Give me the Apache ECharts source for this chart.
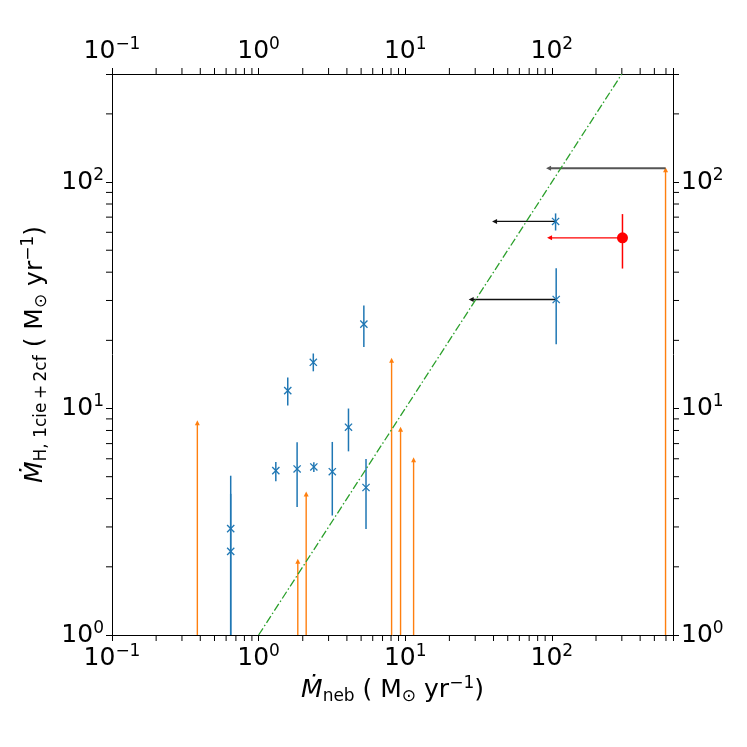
<!DOCTYPE html>
<html><head><meta charset="utf-8">
<script src="https://cdn.jsdelivr.net/npm/echarts@6/dist/echarts.min.js"></script>
<style>html,body{margin:0;padding:0;background:#fff}#c{width:747px;height:747px}</style>
</head><body><div id="c"></div>
<script>
// ---- axis ranges ----
const X_MIN = 0.1, X_MAX = 670, Y_MIN = 1, Y_MAX = 300;

// ---- blue measurements (x marker + vertical error bar) ----
const blueX  = [0.645, 0.645, 1.31, 1.58, 1.83, 2.36, 2.38, 3.18, 4.10, 5.22, 5.40, 106, 107];
const blueY  = [2.95, 2.34, 5.32, 12.0, 5.41, 16.0, 5.52, 5.26, 8.27, 23.6, 4.48, 67.0, 30.3];
const blueLo = [1.0, 1.0, 4.77, 10.3, 3.67, 14.6, 5.25, 3.37, 6.47, 18.7, 2.94, 61.1, 19.2];
const blueHi = [5.05, 4.2, 5.81, 13.7, 7.10, 17.5, 5.79, 7.12, 10.0, 28.5, 5.99, 72.7, 41.6];

// ---- orange lower limits (vertical arrows from bottom) ----
const orangeX = [0.382, 1.85, 2.11, 8.07, 9.29, 11.4, 596];
const orangeY = [8.79, 2.15, 4.26, 16.6, 8.22, 6.03, 115];

// ---- black upper limits on x (horizontal arrows pointing left) ----
const limFromX = [596, 106, 107];
const limToX   = [92.7, 39.7, 27.5];
const limY     = [115, 67.0, 30.3];

// ---- red point ----
const redX = [303], redY = [56.7], redLo = [41.5], redHi = [72.2], redToX = [94.2];

// ---- one-to-one line ----
const oneToOneX = [1, 300];

// ---- minor tick values ----
const xMinor = [0.2,0.3,0.4,0.5,0.6,0.7,0.8,0.9, 2,3,4,5,6,7,8,9, 20,30,40,50,60,70,80,90, 200,300,400,500,600];
const yMinor = [2,3,4,5,6,7,8,9, 20,30,40,50,60,70,80,90, 200];

const FONT = 'DejaVu Sans';
const BLUE = '#1f77b4', ORANGE = '#ff7f0e', GREEN = '#2ca02c', RED = '#ff0000';

function powLabel(v) {
  const l = Math.log10(v), e = Math.round(l);
  if (Math.abs(l - e) > 1e-6) return '';
  return '{b|10}{e|' + (e < 0 ? '\u2212' + (-e) : e) + '}';
}
const labelRich = {
  b: {fontSize: 25, fontFamily: FONT, color: '#000', lineHeight: 30},
  e: {fontSize: 17, fontFamily: FONT, color: '#000', lineHeight: 16, verticalAlign: 'top'}
};
const nameRich = {
  m: {fontSize: 25, fontFamily: FONT, fontStyle: 'italic', color: '#000', lineHeight: 30},
  n: {fontSize: 25, fontFamily: FONT, color: '#000', lineHeight: 30},
  s: {fontSize: 17, fontFamily: FONT, color: '#000', lineHeight: 18, verticalAlign: 'bottom'},
  e: {fontSize: 17, fontFamily: FONT, color: '#000', lineHeight: 16, verticalAlign: 'top'}
};

function axisCommon(min, max) {
  return {
    type: 'log', logBase: 10, min: min, max: max,
    axisLine: {show: true, onZero: false, lineStyle: {color: '#000', width: 1}},
    axisTick: {show: true, inside: false, length: 6, lineStyle: {color: '#000', width: 1}},
    axisLabel: {formatter: powLabel, rich: labelRich, margin: 8, showMinLabel: true, showMaxLabel: true},
    splitLine: {show: false}, minorTick: {show: false}, minorSplitLine: {show: false}
  };
}

const xBottom = Object.assign(axisCommon(X_MIN, X_MAX), {
  position: 'bottom',
  name: '{m|\u1E40}{s|neb}{n| ( M}{s|\u2299}{n| yr}{e|\u22121}{n|)}',
  nameLocation: 'middle', nameGap: 40, nameTextStyle: {rich: nameRich}
});
const xTop = Object.assign(axisCommon(X_MIN, X_MAX), {position: 'top'});
const yLeft = Object.assign(axisCommon(Y_MIN, Y_MAX), {
  position: 'left',
  name: '{m|\u1E40}{s|H, 1cie\u2009+\u20092cf}{n| ( M}{s|\u2299}{n| yr}{e|\u22121}{n|)}',
  nameLocation: 'middle', nameGap: 62, nameRotate: 90, nameTextStyle: {rich: nameRich}
});
const yRight = Object.assign(axisCommon(Y_MIN, Y_MAX), {position: 'right'});

function triUp(px, py, c) {
  return {type: 'polygon', shape: {points: [[px, py - 1], [px - 2.5, py + 4], [px + 2.5, py + 4]]}, style: {fill: c}};
}
function triLeft(px, py, c) {
  return {type: 'polygon', shape: {points: [[px - 1, py], [px + 4, py - 2.5], [px + 4, py + 2.5]]}, style: {fill: c}};
}

const blueData = blueX.map((x, i) => [x, blueY[i], blueLo[i], blueHi[i]]);
const orangeData = orangeX.map((x, i) => [x, orangeY[i]]);
const limData = limFromX.map((x, i) => [x, limY[i], limToX[i]]);
const redData = redX.map((x, i) => [x, redY[i], redLo[i], redHi[i], redToX[i]]);

const option = {
  animation: false,
  grid: {left: 112, right: 74, top: 74, bottom: 112, containLabel: false},
  xAxis: [xBottom, xTop],
  yAxis: [yLeft, yRight],
  series: [
    { // minor ticks on x (bottom & top)
      type: 'custom', xAxisIndex: 0, yAxisIndex: 0, silent: true,
      data: xMinor.map(v => [v, Y_MIN]),
      renderItem: function (params, api) {
        const cs = params.coordSys;
        const p = api.coord([api.value(0), Y_MIN]);
        return {type: 'group', children: [
          {type: 'line', shape: {x1: p[0], y1: cs.y + cs.height, x2: p[0], y2: cs.y + cs.height + 6}, style: {stroke: '#000', lineWidth: 1}},
          {type: 'line', shape: {x1: p[0], y1: cs.y, x2: p[0], y2: cs.y - 6}, style: {stroke: '#000', lineWidth: 1}}
        ]};
      }
    },
    { // minor ticks on y (left & right)
      type: 'custom', xAxisIndex: 0, yAxisIndex: 0, silent: true,
      data: yMinor.map(v => [X_MIN, v]),
      renderItem: function (params, api) {
        const cs = params.coordSys;
        const p = api.coord([X_MIN, api.value(1)]);
        return {type: 'group', children: [
          {type: 'line', shape: {x1: cs.x, y1: p[1], x2: cs.x - 6, y2: p[1]}, style: {stroke: '#000', lineWidth: 1}},
          {type: 'line', shape: {x1: cs.x + cs.width, y1: p[1], x2: cs.x + cs.width + 6, y2: p[1]}, style: {stroke: '#000', lineWidth: 1}}
        ]};
      }
    },
    { // one-to-one line
      type: 'line', xAxisIndex: 0, yAxisIndex: 0, symbol: 'none', silent: true,
      data: oneToOneX.map(v => [v, v]),
      lineStyle: {color: GREEN, width: 1.3, type: [8, 2.5, 1.5, 2.5]}
    },
    { // orange lower limits
      type: 'custom', xAxisIndex: 0, yAxisIndex: 0, silent: true,
      data: orangeData,
      renderItem: function (params, api) {
        const p0 = api.coord([api.value(0), Y_MIN]);
        const p1 = api.coord([api.value(0), api.value(1)]);
        return {type: 'group', children: [
          {type: 'line', shape: {x1: p0[0], y1: p0[1], x2: p1[0], y2: p1[1] + 2}, style: {stroke: ORANGE, lineWidth: 1.4}},
          triUp(p1[0], p1[1], ORANGE)
        ]};
      }
    },
    { // black upper-limit arrows (first one drawn in grey, thicker)
      type: 'custom', xAxisIndex: 0, yAxisIndex: 0, silent: true,
      data: limData,
      renderItem: function (params, api) {
        const p0 = api.coord([api.value(0), api.value(1)]);
        const p1 = api.coord([api.value(2), api.value(1)]);
        const c = params.dataIndex === 0 ? '#555' : '#111';
        const w = params.dataIndex === 0 ? 1.9 : 1.3;
        return {type: 'group', children: [
          {type: 'line', shape: {x1: p0[0], y1: p0[1], x2: p1[0] + 2, y2: p1[1]}, style: {stroke: c, lineWidth: w}},
          triLeft(p1[0], p1[1], c)
        ]};
      }
    },
    { // blue points with error bars
      type: 'custom', xAxisIndex: 0, yAxisIndex: 0, silent: true,
      data: blueData,
      renderItem: function (params, api) {
        const x = api.value(0);
        const p = api.coord([x, api.value(1)]);
        const pl = api.coord([x, api.value(2)]);
        const ph = api.coord([x, api.value(3)]);
        const s = 3.6;
        return {type: 'group', children: [
          {type: 'line', shape: {x1: p[0], y1: pl[1], x2: p[0], y2: ph[1]}, style: {stroke: BLUE, lineWidth: 1.5}},
          {type: 'line', shape: {x1: p[0] - s, y1: p[1] - s, x2: p[0] + s, y2: p[1] + s}, style: {stroke: BLUE, lineWidth: 1.3}},
          {type: 'line', shape: {x1: p[0] - s, y1: p[1] + s, x2: p[0] + s, y2: p[1] - s}, style: {stroke: BLUE, lineWidth: 1.3}}
        ]};
      }
    },
    { // red point with error bar and limit arrow
      type: 'custom', xAxisIndex: 0, yAxisIndex: 0, silent: true,
      data: redData,
      renderItem: function (params, api) {
        const x = api.value(0), y = api.value(1);
        const p = api.coord([x, y]);
        const pl = api.coord([x, api.value(2)]);
        const ph = api.coord([x, api.value(3)]);
        const pa = api.coord([api.value(4), y]);
        return {type: 'group', children: [
          {type: 'line', shape: {x1: p[0], y1: p[1], x2: pa[0] + 2, y2: p[1]}, style: {stroke: RED, lineWidth: 1.3}},
          triLeft(pa[0], pa[1], RED),
          {type: 'line', shape: {x1: p[0], y1: pl[1], x2: p[0], y2: ph[1]}, style: {stroke: RED, lineWidth: 1.5}},
          {type: 'circle', shape: {cx: p[0], cy: p[1], r: 5.5}, style: {fill: RED}}
        ]};
      }
    }
  ]
};

const chart = echarts.init(document.getElementById('c'), null, {renderer: 'canvas'});
chart.setOption(option);
</script>
</body></html>
